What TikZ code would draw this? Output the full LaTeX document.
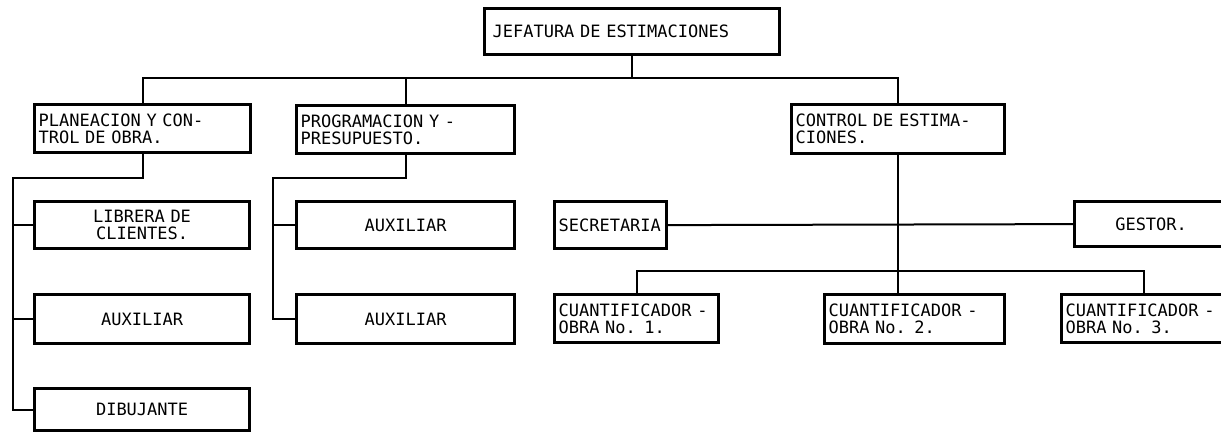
\documentclass[tikz,border=0pt]{standalone}
\usepackage{fontspec}
\newfontfamily\maq{DejaVu Sans Mono}
\begin{document}
\begin{tikzpicture}[x=1pt,y=-1pt,
  caja/.style={draw, line width=3.2pt, anchor=north west, inner xsep=4pt, inner ysep=0pt,
    font=\maq\fontsize{17}{17}\selectfont},
  linea/.style={line width=2pt}]
\useasboundingbox (0,0) rectangle (1221,432);

% cabeza
\node[caja, inner xsep=8pt, text width=279pt, minimum height=46pt, align=left] (jefe) at (483,7) {JEFATURA DE ESTIMACIONES};

% segundo nivel
\node[caja, text width=208pt, minimum height=48pt, align=left] (plan) at (33,103) {PLANEACION Y CON-\\TROL DE OBRA.};
\node[caja, text width=210pt, minimum height=48pt, align=left] (prog) at (295,104) {PROGRAMACION Y -\\PRESUPUESTO.};
\node[caja, text width=205pt, minimum height=49pt, align=left] (ctrl) at (790,103) {CONTROL DE ESTIMA-\\CIONES.};

% rama izquierda
\node[caja, text width=207pt, minimum height=47pt, align=center] (libr) at (33,200) {LIBRERA DE\\CLIENTES.};
\node[caja, text width=207pt, minimum height=49pt, align=center] (auxa) at (33,293) {AUXILIAR};
\node[caja, text width=207pt, minimum height=42pt, align=center] (dibu) at (33,387) {DIBUJANTE};

% rama central
\node[caja, text width=210pt, minimum height=47pt, align=center] (auxb) at (295,200) {AUXILIAR};
\node[caja, text width=210pt, minimum height=49pt, align=center] (auxc) at (295,293) {AUXILIAR};

% rama derecha
\node[caja, text width=104pt, minimum height=47pt, align=left] (secr) at (553,200) {SECRETARIA};
\node[caja, text width=145pt, minimum height=45pt, align=center] (gest) at (1073,200) {GESTOR.};
\node[caja, text width=156pt, minimum height=48pt, align=left] (cua1) at (553,293) {CUANTIFICADOR -\\OBRA No. 1.};
\node[caja, text width=172pt, minimum height=49pt, align=left] (cua2) at (823,293) {CUANTIFICADOR -\\OBRA No. 2.};
\node[caja, text width=156pt, minimum height=48pt, align=left] (cua3) at (1060,293) {CUANTIFICADOR -\\OBRA No. 3.};

% lineas
\coordinate (bus) at (632,78);
\draw[linea] (jefe.south) -- (jefe.south |- bus);
\draw[linea] (plan.north) -- (plan.north |- bus) -- (ctrl.north |- bus) -- (ctrl.north);
\draw[linea] (prog.north) -- (prog.north |- bus);

\coordinate (lbus) at (13,178);
\draw[linea] (plan.south) |- (lbus) |- (dibu.west);
\draw[linea] (lbus |- libr.west) -- (libr.west);
\draw[linea] (lbus |- auxa.west) -- (auxa.west);

\coordinate (mbus) at (273,178);
\draw[linea] (prog.south) |- (mbus) |- (auxc.west);
\draw[linea] (mbus |- auxb.west) -- (auxb.west);

\coordinate (cbus) at (897,271);
\draw[linea] (ctrl.south) -- (ctrl.south |- cua2.north);
\draw[linea] (secr.east) -- (gest.west);
\draw[linea] (cua1.north) |- (cbus) -| (cua3.north);
\end{tikzpicture}
\end{document}
